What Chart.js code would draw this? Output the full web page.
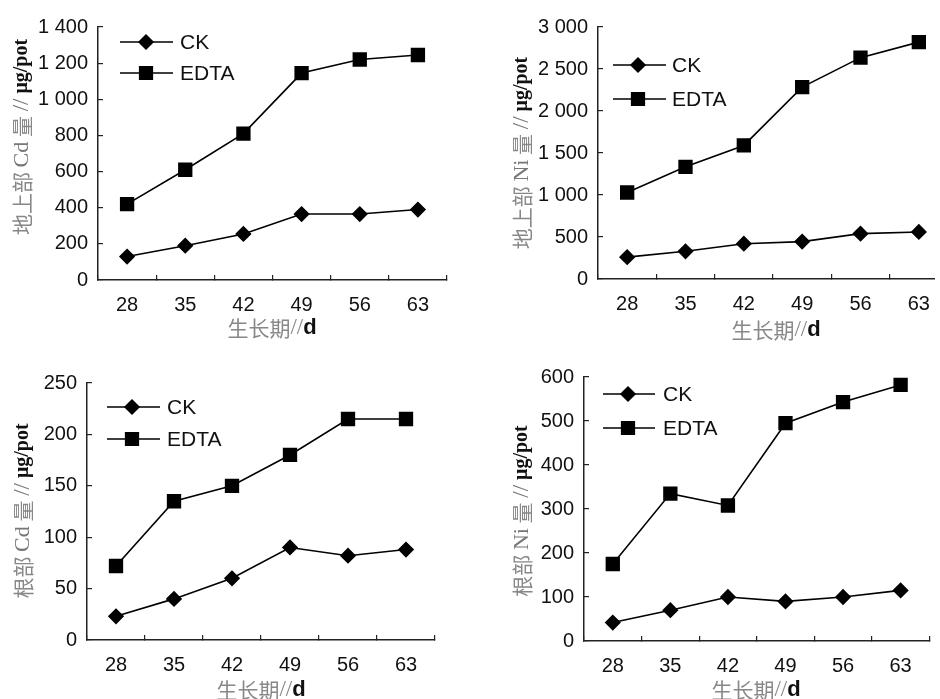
<!DOCTYPE html>
<html>
<head>
<meta charset="utf-8">
<script src="https://cdn.jsdelivr.net/npm/chart.js@4"></script>
<style>
  html, body { margin: 0; padding: 0; background: #fff; }
  body { width: 940px; height: 699px; position: relative; overflow: hidden; }
  .box { position: absolute; overflow: hidden; }
  canvas { display: block; }
</style>
</head>
<body>
<div class="box" style="left:0;top:0;width:470px;height:350px"><canvas id="c1" width="470" height="350"></canvas></div>
<div class="box" style="left:470px;top:0;width:465px;height:350px"><canvas id="c2" width="490" height="350"></canvas></div>
<div class="box" style="left:0;top:350px;width:470px;height:349px"><canvas id="c3" width="470" height="349"></canvas></div>
<div class="box" style="left:470px;top:350px;width:470px;height:349px"><canvas id="c4" width="470" height="349"></canvas></div>
<script>
// growth period (days)
const days = ['28', '35', '42', '49', '56', '63'];
const seriesNames = ['CK', 'EDTA'];

// shoot Cd (µg/pot)
const shootCdCK = [130, 190, 255, 365, 365, 390];
const shootCdEDTA = [420, 610, 810, 1145, 1220, 1245];
// shoot Ni
const shootNiCK = [260, 330, 420, 445, 540, 560];
const shootNiEDTA = [1030, 1335, 1590, 2285, 2635, 2820];
// root Cd
const rootCdCK = [23, 40, 60, 90, 82, 88];
const rootCdEDTA = [72, 135, 150, 180, 215, 215];
// root Ni
const rootNiCK = [42, 70, 100, 90, 100, 115];
const rootNiEDTA = [175, 335, 308, 495, 543, 582];

// y axis ranges
const yMax = [1400, 3000, 250, 600];
const yStep = [200, 500, 50, 100];

const tickFont = "'Liberation Sans', Arial, sans-serif";
const cjkFont = "'Noto Sans CJK SC', sans-serif";
const serifFont = "'Liberation Serif', 'DejaVu Serif', serif";

function fmt(v) {
    // 1400 -> "1 400"
    const s = String(v);
    return s.length > 3 ? s.slice(0, -3) + ' ' + s.slice(-3) : s;
}

// draws the line+marker legend and the mixed-style axis titles
const decoPlugin = {
    id: 'deco',
    afterDraw(chart, args, o) {
        const ctx = chart.ctx;
        ctx.save();
        // legend
        chart.data.datasets.forEach((ds, i) => {
            const y = o.legend.y[i];
            ctx.strokeStyle = '#000';
            ctx.lineWidth = 1.5;
            ctx.beginPath();
            ctx.moveTo(o.legend.x0, y);
            ctx.lineTo(o.legend.x1, y);
            ctx.stroke();
            ctx.fillStyle = '#000';
            Chart.helpers.drawPoint(ctx, {
                pointStyle: ds.pointStyle, radius: ds.pointRadius, rotation: 0, borderWidth: 1
            }, o.legend.xm, y);
            ctx.font = '21px ' + tickFont;
            ctx.textBaseline = 'middle';
            ctx.textAlign = 'left';
            ctx.fillStyle = '#111';
            ctx.fillText(ds.label, o.legend.xt, y + 1);
        });
        drawRich(ctx, o.xTitle.parts, o.xTitle.x, o.xTitle.y, 0);
        drawRich(ctx, o.yTitle.parts, o.yTitle.x, o.yTitle.y, -Math.PI / 2);
        ctx.restore();
    }
};

function drawRich(ctx, parts, cx, cy, rot) {
    ctx.save();
    ctx.translate(cx, cy);
    ctx.rotate(rot);
    ctx.textBaseline = 'middle';
    ctx.textAlign = 'left';
    let w = 0;
    parts.forEach(p => { ctx.font = p.font; w += ctx.measureText(p.t).width; });
    let x = -w / 2;
    parts.forEach(p => {
        ctx.font = p.font;
        ctx.fillStyle = p.color;
        ctx.fillText(p.t, x, 0);
        x += ctx.measureText(p.t).width;
    });
    ctx.restore();
}

function yTitleParts(part, metal) {
    return [
        { t: part + ' ', font: '21px ' + cjkFont, color: '#888' },
        { t: metal, font: '22px ' + serifFont, color: '#777' },
        { t: ' 量 ', font: '21px ' + cjkFont, color: '#888' },
        { t: '//', font: '23px ' + serifFont, color: '#777' },
        { t: ' μg/pot', font: 'bold 20px ' + serifFont, color: '#111' }
    ];
}

const xTitleParts = [
    { t: '生长期', font: '21px ' + cjkFont, color: '#888' },
    { t: '//', font: '23px ' + serifFont, color: '#888' },
    { t: 'd', font: 'bold 22px ' + tickFont, color: '#111' }
];

function makeChart(id, ck, edta, idx, g) {
    const el = document.getElementById(id);
    const H = el.height, W = el.width;
    return new Chart(el, {
        type: 'line',
        data: {
            labels: days,
            datasets: [
                { label: seriesNames[0], data: ck, borderColor: '#000', backgroundColor: '#000',
                  borderWidth: 1.6, pointStyle: 'rectRot', pointRadius: 7, tension: 0 },
                { label: seriesNames[1], data: edta, borderColor: '#000', backgroundColor: '#000',
                  borderWidth: 1.6, pointStyle: 'rect', pointRadius: 9, tension: 0 }
            ]
        },
        options: {
            responsive: false,
            animation: false,
            devicePixelRatio: 1,
            layout: { padding: { top: g.top, right: W - g.right, left: 0, bottom: 0 } },
            plugins: {
                legend: { display: false },
                tooltip: { enabled: false },
                deco: g.deco
            },
            scales: {
                x: {
                    offset: true,
                    grid: { offset: true, drawOnChartArea: false, tickLength: -5, color: '#222', lineWidth: 1.2 },
                    border: { color: '#222', width: 1.5 },
                    ticks: { font: { family: tickFont, size: 20 }, color: '#111', padding: 18 },
                    afterFit: s => { s.height = H - g.bottom; }
                },
                y: {
                    min: 0,
                    max: yMax[idx],
                    grid: { drawOnChartArea: false, tickLength: -5, color: '#222', lineWidth: 1.2 },
                    border: { color: '#222', width: 1.5 },
                    ticks: { stepSize: yStep[idx], font: { family: tickFont, size: 20 }, color: '#111',
                             padding: 15, callback: v => fmt(v) },
                    afterFit: s => { s.width = g.left; }
                }
            }
        },
        plugins: [decoPlugin]
    });
}

makeChart('c1', shootCdCK, shootCdEDTA, 0, {
    left: 98, right: 447, top: 18, bottom: 280,
    deco: {
        legend: { x0: 120, x1: 173, xm: 146, xt: 180, y: [42, 73] },
        xTitle: { parts: xTitleParts, x: 272, y: 328 },
        yTitle: { parts: yTitleParts('地上部', 'Cd'), x: 22, y: 137 }
    }
});
makeChart('c2', shootNiCK, shootNiEDTA, 1, {
    left: 128, right: 478, top: 21, bottom: 279,
    deco: {
        legend: { x0: 143, x1: 196, xm: 168, xt: 202, y: [65, 99] },
        xTitle: { parts: xTitleParts, x: 306, y: 330 },
        yTitle: { parts: yTitleParts('地上部', 'Ni'), x: 52, y: 153 }
    }
});
makeChart('c3', rootCdCK, rootCdEDTA, 2, {
    left: 87, right: 435, top: 33, bottom: 290,
    deco: {
        legend: { x0: 107, x1: 160, xm: 132, xt: 167, y: [57, 89] },
        xTitle: { parts: xTitleParts, x: 261, y: 340 },
        yTitle: { parts: yTitleParts('根部', 'Cd'), x: 23, y: 161 }
    }
});
makeChart('c4', rootNiCK, rootNiEDTA, 3, {
    left: 114, right: 465, top: 27, bottom: 291,
    deco: {
        legend: { x0: 133, x1: 185, xm: 158, xt: 193, y: [44, 78] },
        xTitle: { parts: xTitleParts, x: 286, y: 340 },
        yTitle: { parts: yTitleParts('根部', 'Ni'), x: 52, y: 161 }
    }
});
</script>
</body>
</html>
